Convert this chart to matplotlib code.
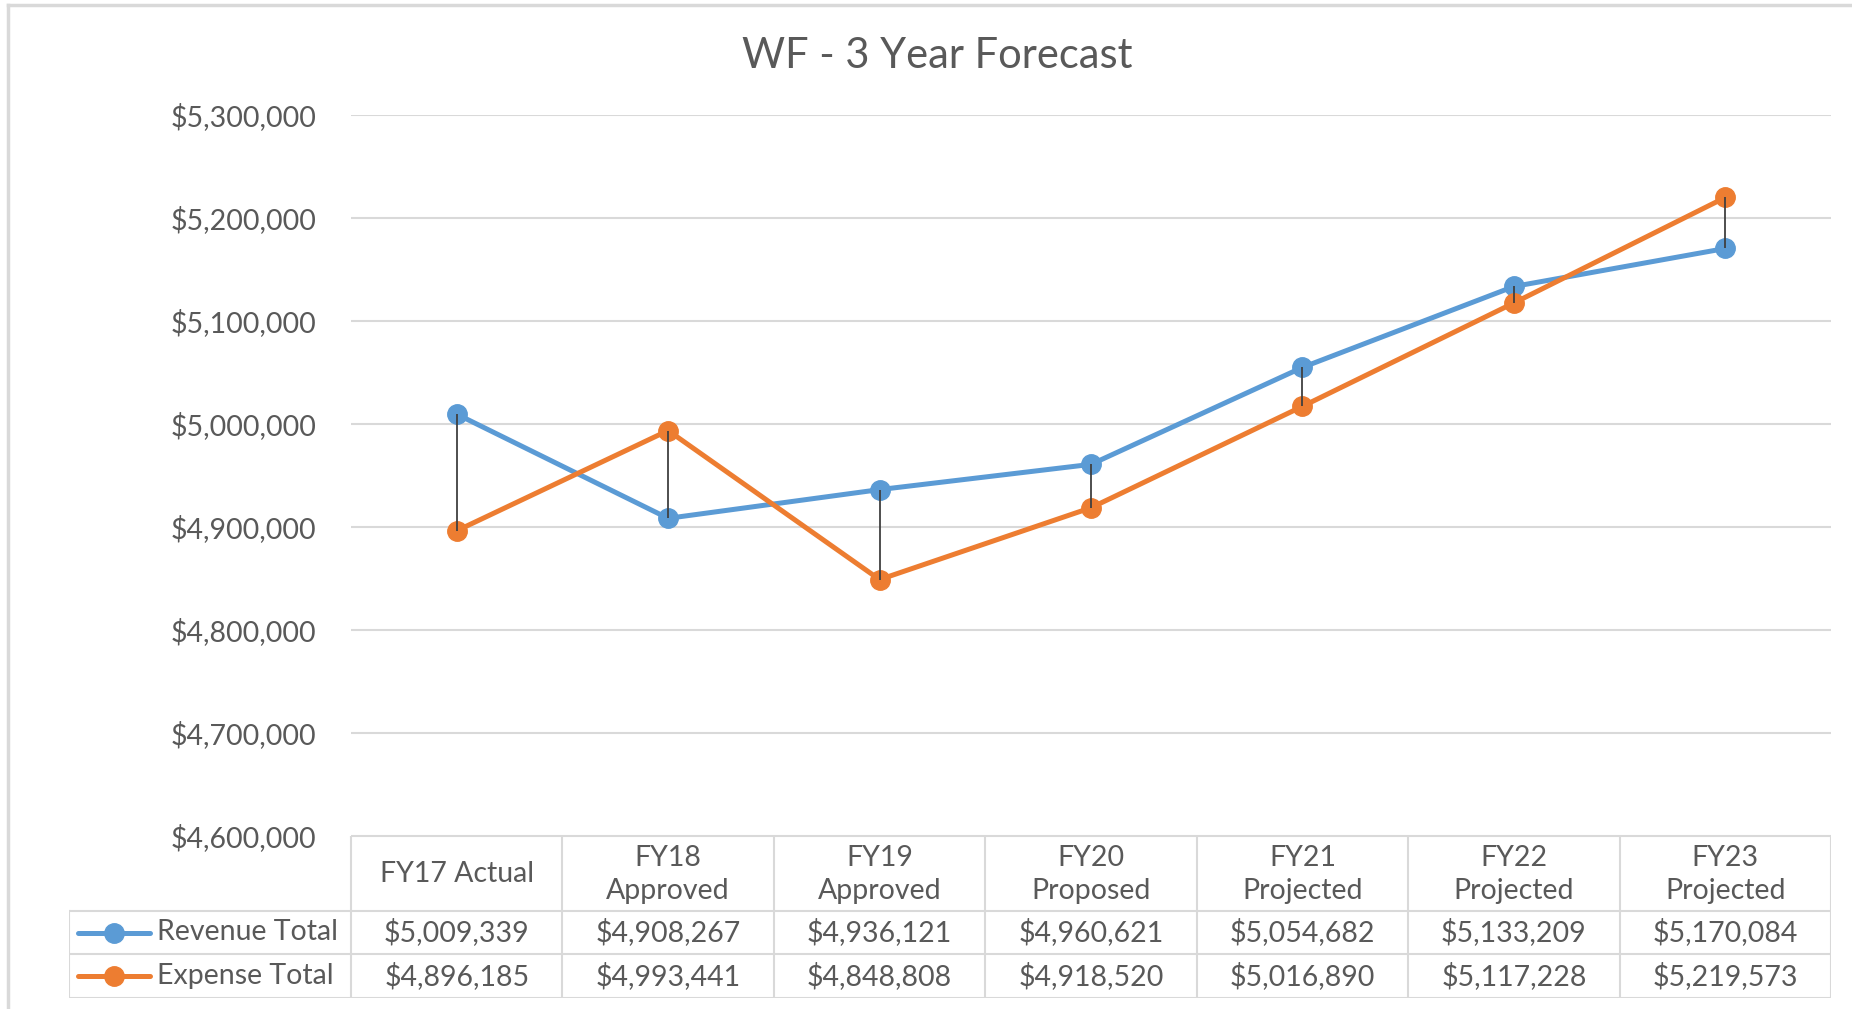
import matplotlib.pyplot as plt
from matplotlib.lines import Line2D

plt.rcParams['font.family'] = ['Lato', 'DejaVu Sans']

# data
periods = ['FY17 Actual', 'FY18\nApproved', 'FY19\nApproved', 'FY20\nProposed',
           'FY21\nProjected', 'FY22\nProjected', 'FY23\nProjected']
revenue = [5009339, 4908267, 4936121, 4960621, 5054682, 5133209, 5170084]
expense = [4896185, 4993441, 4848808, 4918520, 5016890, 5117228, 5219573]
series_names = ['Revenue Total', 'Expense Total']
yticks = [4600000, 4700000, 4800000, 4900000, 5000000, 5100000, 5200000, 5300000]

BLUE = '#5B9BD5'
ORANGE = '#ED7D31'
TXT = '#595959'
GRID = '#D9D9D9'
FS = 20.5

W, H = 1852, 1009
fig = plt.figure(figsize=(W / 100, H / 100), dpi=100)

# pixel layout
left, right = 351, 1831
top, axbot = 114.6, 836
tab_left, tab_bot = 69, 998


def fx(px):
    return px / W


def fy(py):
    return 1 - py / H


# chart area border (cropped at right and bottom)
fig.add_artist(Line2D([fx(8), fx(8)], [fy(5), 0], color=GRID, lw=2.5))
fig.add_artist(Line2D([fx(8), 1], [fy(5), fy(5)], color=GRID, lw=2.5))

ax = fig.add_axes([fx(left), fy(axbot), fx(right - left), fy(top) - fy(axbot)])
x = list(range(len(periods)))
ax.plot(x, revenue, color=BLUE, lw=3.6, marker='o', ms=14, zorder=3,
        solid_capstyle='round')
ax.plot(x, expense, color=ORANGE, lw=3.6, marker='o', ms=14, zorder=3,
        solid_capstyle='round')
lows = [min(r, e) for r, e in zip(revenue, expense)]
highs = [max(r, e) for r, e in zip(revenue, expense)]
ax.vlines(x, lows, highs, color='#404040', lw=1.3, zorder=4)

ax.set_xlim(-0.5, len(periods) - 0.5)
ax.set_ylim(yticks[0], yticks[-1])
ax.set_yticks(yticks)
ax.set_yticklabels(['${:,.0f}'.format(v) for v in yticks])
ax.tick_params(axis='y', length=0, pad=25, labelsize=FS, labelcolor=TXT)
ax.set_xticks([])
ax.grid(axis='y', color=GRID, lw=1.5)
ax.set_axisbelow(True)
for s in ax.spines.values():
    s.set_visible(False)

fig.text(fx(937), fy(56), 'WF - 3 Year Forecast', ha='center', va='center',
         fontsize=30, color=TXT)

# data table below the plot
tab = fig.add_axes([fx(tab_left), fy(tab_bot), fx(right - tab_left),
                    fy(axbot) - fy(tab_bot)])
colw = (right - left) / len(periods)
lab_w = (left - tab_left) / colw
tab.set_xlim(-0.5 - lab_w, len(periods) - 0.5)
row_edges = [0, 75, 118, 162]
tab.set_ylim(row_edges[-1], 0)
tab.axis('off')

lc = dict(color=GRID, lw=1.5)
x0 = -0.5 - lab_w
tab.plot([-0.5, len(periods) - 0.5], [0, 0], **lc)
for r in row_edges[1:]:
    tab.plot([x0, len(periods) - 0.5], [r, r], **lc)
tab.plot([x0, x0], [row_edges[1], row_edges[-1]], **lc)
for i in range(len(periods) + 1):
    tab.plot([i - 0.5, i - 0.5], [0, row_edges[-1]], **lc)

for i, p in enumerate(periods):
    tab.text(i, row_edges[1] / 2 + 1, p, ha='center', va='center', fontsize=FS,
             color=TXT, linespacing=1.35)

rows = [revenue, expense]
colors = [BLUE, ORANGE]
for k, (vals, name, c) in enumerate(zip(rows, series_names, colors)):
    yc = (row_edges[k + 1] + row_edges[k + 2]) / 2
    for i, v in enumerate(vals):
        tab.text(i, yc, '${:,.0f}'.format(v), ha='center', va='center',
                 fontsize=FS, color=TXT)
    lx0 = x0 + 9 / colw
    lx1 = x0 + 81 / colw
    tab.plot([lx0, lx1], [yc, yc], color=c, lw=3.6, solid_capstyle='round')
    tab.plot([(lx0 + lx1) / 2], [yc], color=c, marker='o', ms=14)
    tab.text(x0 + 88 / colw, yc, name, ha='left', va='center', fontsize=FS,
             color=TXT)

fig.savefig('out.png', dpi=100)
